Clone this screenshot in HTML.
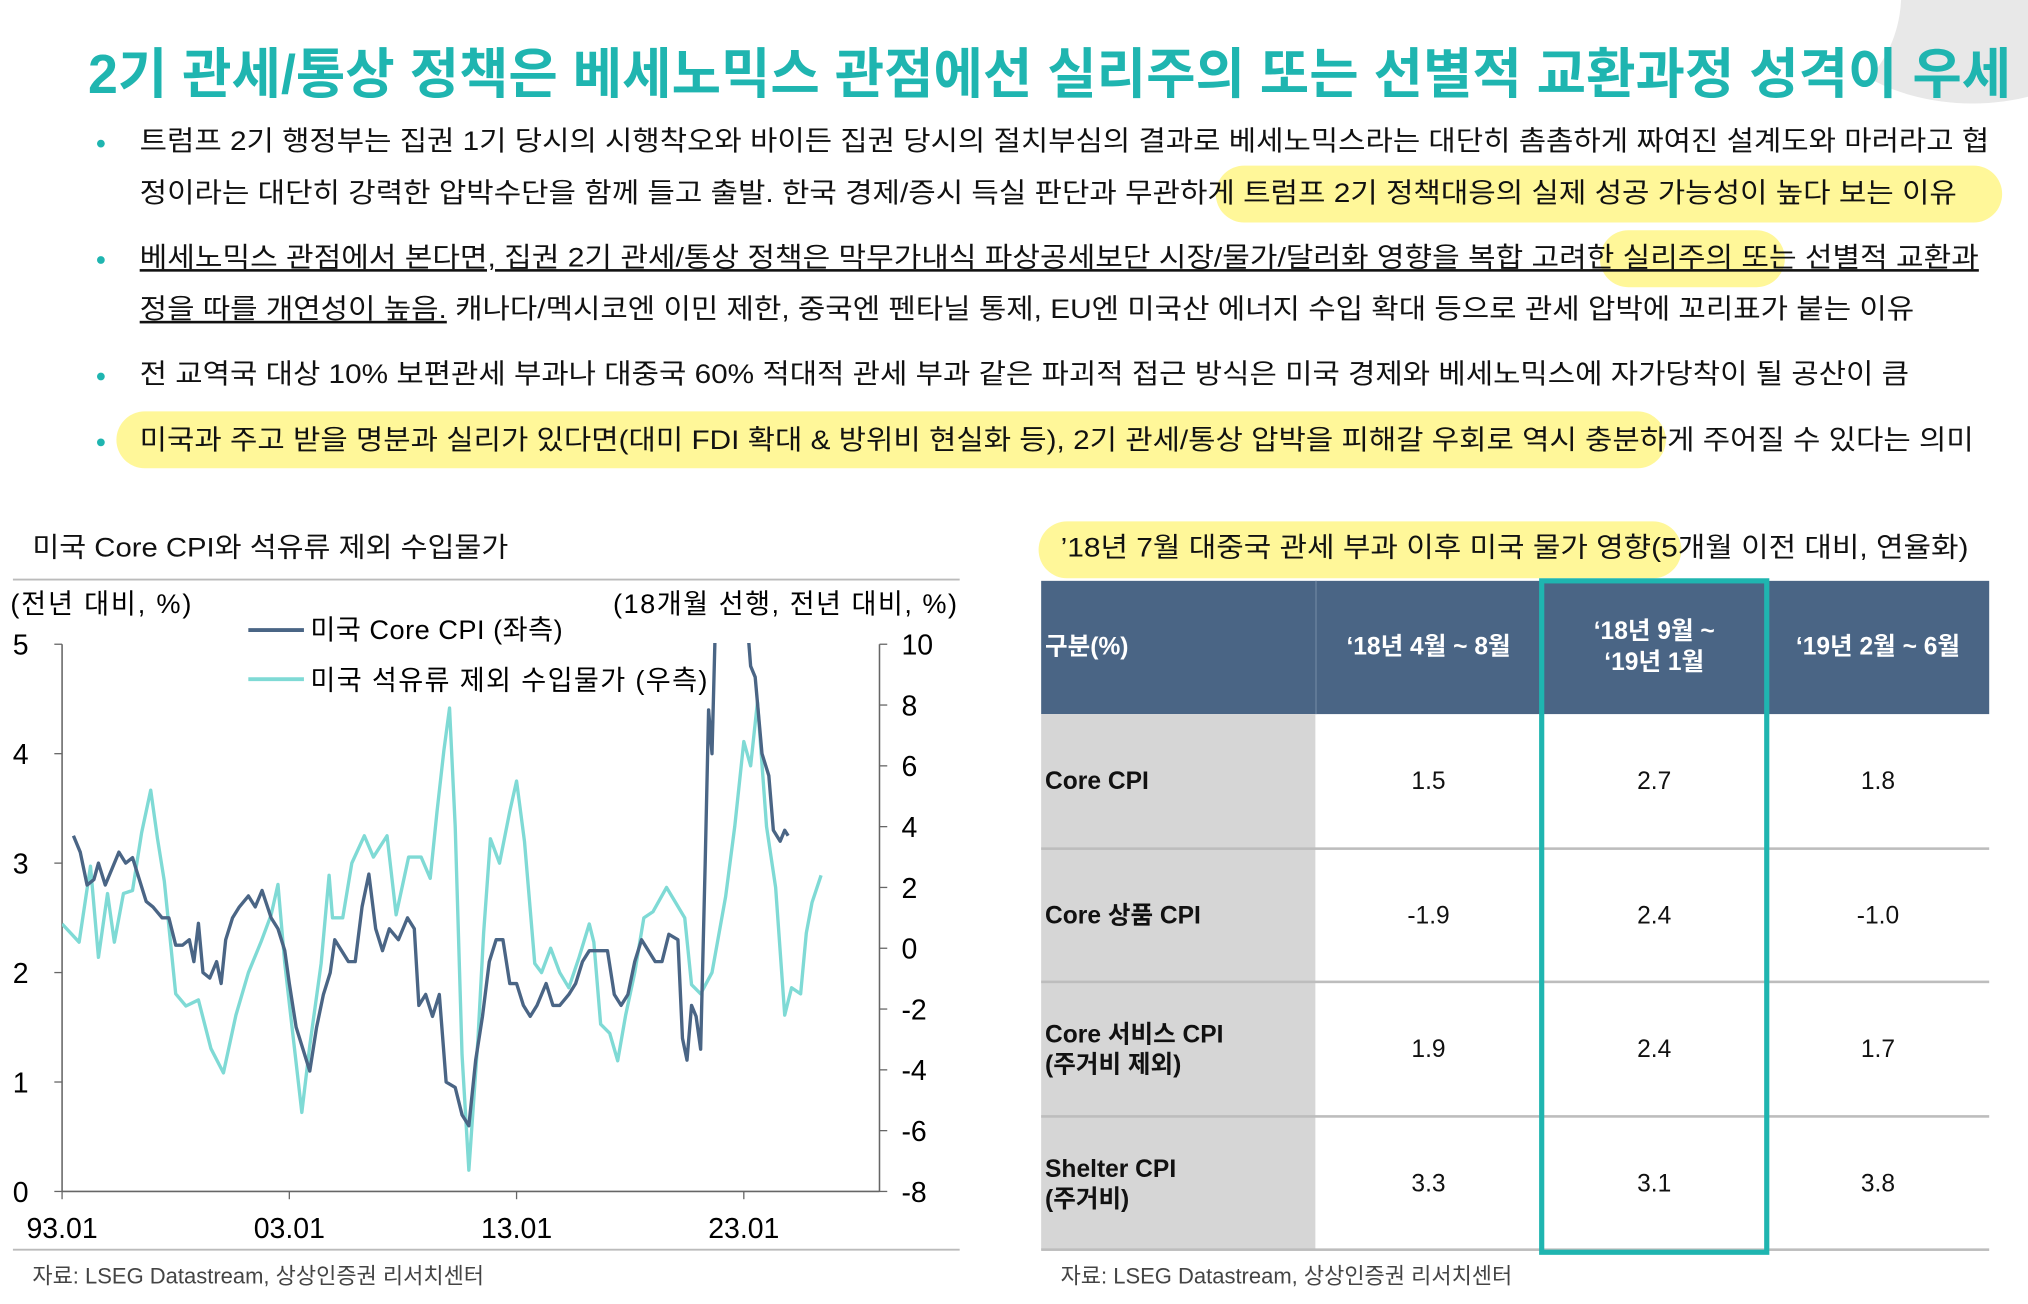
<!DOCTYPE html>
<html><head><meta charset="utf-8">
<style>
html,body{margin:0;padding:0;background:#fff;width:2028px;height:1304px;overflow:hidden;}
#stage{position:absolute;left:0;top:0;width:1568px;height:1008px;overflow:hidden;transform:scale(1.29337,1.29365);transform-origin:0 0;font-family:"Liberation Sans","Noto Sans CJK KR",sans-serif;color:#111;}
.abs{position:absolute;white-space:nowrap;}
.fit{display:inline-block;transform-origin:0 50%;}
.hl{position:absolute;background:#fff799;border-radius:22px;}
.line{position:absolute;left:108px;font-size:21px;line-height:30px;height:30px;}
.dot{position:absolute;left:75px;width:6px;height:6px;border-radius:3px;background:#1fb5b0;}
.th{position:absolute;color:#fff;font-weight:bold;font-size:19px;text-align:center;line-height:24px;}
.td{position:absolute;font-size:19px;text-align:center;line-height:24px;}
.rl{position:absolute;font-size:19px;font-weight:bold;line-height:23px;left:808px;}
</style></head><body>
<div id="stage">
<div class="abs" style="left:1400px;top:-90px;width:250px;height:170px;border-radius:50%;background:#e8e8e8;"></div>
<div class="abs" style="left:1330px;top:-90px;width:140px;height:170px;border-radius:50%;background:#fff;"></div>

<div class="abs" style="left:68px;top:30px;height:56px;line-height:56px;font-size:42px;font-weight:bold;color:#1fb5b0;"><span class="fit" data-w="1487">2기 관세/통상 정책은 베세노믹스 관점에선 실리주의 또는 선별적 교환과정 성격이 우세</span></div>

<div class="hl" style="left:940px;top:128px;width:608px;height:44px;"></div>
<div class="hl" style="left:1237px;top:178px;width:143px;height:44px;border-radius:24px;"></div>
<div class="hl" style="left:90px;top:318px;width:1198px;height:44px;"></div>
<div class="hl" style="left:803px;top:403px;width:497px;height:44px;"></div>

<div class="dot" style="top:108px"></div>
<div class="dot" style="top:198px"></div>
<div class="dot" style="top:288px"></div>
<div class="dot" style="top:339px"></div>

<div class="line" style="top:95px"><span class="fit" data-w="1430">트럼프 2기 행정부는 집권 1기 당시의 시행착오와 바이든 집권 당시의 절치부심의 결과로 베세노믹스라는 대단히 촘촘하게 짜여진 설계도와 마러라고 협</span></div>
<div class="line" style="top:135px"><span class="fit" data-w="1405">정이라는 대단히 강력한 압박수단을 함께 들고 출발. 한국 경제/증시 득실 판단과 무관하게 트럼프 2기 정책대응의 실제 성공 가능성이 높다 보는 이유</span></div>
<div class="line" style="top:185px"><span class="fit" data-w="1422"><u>베세노믹스 관점에서 본다면, 집권 2기 관세/통상 정책은 막무가내식 파상공세보단 시장/물가/달러화 영향을 복합 고려한 실리주의 또는 선별적 교환과</u></span></div>
<div class="line" style="top:225px"><span class="fit" data-w="1372"><u>정을 따를 개연성이 높음.</u> 캐나다/멕시코엔 이민 제한, 중국엔 펜타닐 통제, EU엔 미국산 에너지 수입 확대 등으로 관세 압박에 꼬리표가 붙는 이유</span></div>
<div class="line" style="top:275px"><span class="fit" data-w="1368">전 교역국 대상 10% 보편관세 부과나 대중국 60% 적대적 관세 부과 같은 파괴적 접근 방식은 미국 경제와 베세노믹스에 자가당착이 될 공산이 큼</span></div>
<div class="line" style="top:326px"><span class="fit" data-w="1418">미국과 주고 받을 명분과 실리가 있다면(대미 FDI 확대 &amp; 방위비 현실화 등), 2기 관세/통상 압박을 피해갈 우회로 역시 충분하게 주어질 수 있다는 의미</span></div>

<div class="abs" style="left:25px;top:410px;font-size:21px;line-height:28px;"><span class="fit" data-w="368">미국 Core CPI와 석유류 제외 수입물가</span></div>
<div class="abs" style="left:820px;top:410px;font-size:21px;line-height:28px;"><span class="fit" data-w="702">’18년 7월 대중국 관세 부과 이후 미국 물가 영향(5개월 이전 대비, 연율화)</span></div>

<svg class="abs" style="left:0;top:0" width="1568" height="1008">
<defs><clipPath id="pc"><rect x="48" y="497" width="632" height="426"/></clipPath></defs>
<line x1="10" y1="448" x2="742" y2="448" stroke="#bbb" stroke-width="1.5"/>
<line x1="10" y1="966" x2="742" y2="966" stroke="#bbb" stroke-width="1.5"/>
<g id="axes"></g>
<g id="series" clip-path="url(#pc)"></g>
<line x1="192" y1="487" x2="235" y2="487" stroke="#4a6585" stroke-width="3"/>
<text x="240" y="494" font-size="21" textLength="195">미국 Core CPI (좌측)</text>
<line x1="192" y1="525" x2="235" y2="525" stroke="#7fdad5" stroke-width="3"/>
<text x="240" y="533" font-size="21" textLength="307">미국 석유류 제외 수입물가 (우측)</text>
<text x="8" y="474" font-size="21" textLength="140">(전년 대비, %)</text>
<text x="740" y="474" font-size="21" text-anchor="end" textLength="266">(18개월 선행, 전년 대비, %)</text>
</svg>

<div class="abs" style="left:25px;top:972px;font-size:17px;color:#444;">자료: LSEG Datastream, 상상인증권 리서치센터</div>
<div class="abs" style="left:820px;top:972px;font-size:17px;color:#444;">자료: LSEG Datastream, 상상인증권 리서치센터</div>

<div class="abs" style="left:805px;top:449px;width:733px;height:103px;background:#4a6585;"></div>
<div class="abs" style="left:805px;top:552px;width:212px;height:414px;background:#d6d6d6;"></div>
<div class="abs" style="left:1017px;top:449px;width:1px;height:103px;background:#6d84a0;"></div>
<div class="abs" style="left:1366px;top:449px;width:1px;height:103px;background:#6d84a0;"></div>
<div class="abs" style="left:805px;top:655px;width:733px;height:1.5px;background:#bdbdbd;"></div>
<div class="abs" style="left:805px;top:758px;width:733px;height:1.5px;background:#bdbdbd;"></div>
<div class="abs" style="left:805px;top:862px;width:733px;height:1.5px;background:#bdbdbd;"></div>
<div class="abs" style="left:805px;top:965px;width:733px;height:1.5px;background:#bdbdbd;"></div>
<div class="abs" style="left:1190px;top:447px;width:170px;height:515px;border:4px solid #1fb5b0;"></div>

<div class="th" style="left:808px;top:489px;text-align:left;">구분(%)</div>
<div class="th" style="left:1017px;top:489px;width:175px;">‘18년 4월 ~ 8월</div>
<div class="th" style="left:1192px;top:477px;width:174px;">‘18년 9월 ~<br>‘19년 1월</div>
<div class="th" style="left:1366px;top:489px;width:172px;">‘19년 2월 ~ 6월</div>

<div class="rl" style="top:593px">Core CPI</div>
<div class="rl" style="top:697px">Core 상품 CPI</div>
<div class="rl" style="top:789px">Core 서비스 CPI<br>(주거비 제외)</div>
<div class="rl" style="top:893px">Shelter CPI<br>(주거비)</div>

<div class="td" style="left:1017px;top:593px;width:175px">1.5</div>
<div class="td" style="left:1192px;top:593px;width:174px">2.7</div>
<div class="td" style="left:1366px;top:593px;width:172px">1.8</div>
<div class="td" style="left:1017px;top:697px;width:175px">-1.9</div>
<div class="td" style="left:1192px;top:697px;width:174px">2.4</div>
<div class="td" style="left:1366px;top:697px;width:172px">-1.0</div>
<div class="td" style="left:1017px;top:800px;width:175px">1.9</div>
<div class="td" style="left:1192px;top:800px;width:174px">2.4</div>
<div class="td" style="left:1366px;top:800px;width:172px">1.7</div>
<div class="td" style="left:1017px;top:904px;width:175px">3.3</div>
<div class="td" style="left:1192px;top:904px;width:174px">3.1</div>
<div class="td" style="left:1366px;top:904px;width:172px">3.8</div>
</div>

<script>
const leftTicks=[0,1,2,3,4,5];
const rightTicks=[-8,-6,-4,-2,0,2,4,6,8,10];
const xTickYears=[1993,2003,2013,2023];
const xTickLabels=["93.01","03.01","13.01","23.01"];
const cpiDates=[1993.5,1993.8,1994.1,1994.4,1994.6,1994.9,1995.2,1995.5,1995.8,1996.1,1996.4,1996.7,1997.0,1997.4,1997.7,1998.0,1998.3,1998.6,1998.8,1999.0,1999.2,1999.5,1999.8,2000.0,2000.2,2000.5,2000.8,2001.2,2001.5,2001.8,2002.2,2002.5,2002.8,2003.0,2003.3,2003.6,2003.9,2004.2,2004.5,2004.8,2005.0,2005.3,2005.6,2005.9,2006.2,2006.5,2006.8,2007.1,2007.4,2007.8,2008.2,2008.5,2008.7,2009.0,2009.3,2009.6,2009.9,2010.3,2010.6,2010.9,2011.2,2011.5,2011.8,2012.1,2012.4,2012.7,2013.0,2013.3,2013.6,2013.9,2014.3,2014.6,2014.9,2015.3,2015.6,2015.9,2016.2,2016.5,2016.8,2017.0,2017.3,2017.6,2017.9,2018.2,2018.5,2018.8,2019.1,2019.4,2019.7,2020.1,2020.3,2020.5,2020.7,2020.9,2021.1,2021.3,2021.45,2021.6,2021.75,2022.0,2022.7,2023.0,2023.3,2023.5,2023.8,2024.1,2024.3,2024.6,2024.8,2024.95];
const cpiValues=[3.25,3.1,2.8,2.85,3.0,2.8,2.95,3.1,3.0,3.05,2.85,2.65,2.6,2.5,2.5,2.25,2.25,2.3,2.1,2.45,2.0,1.95,2.1,1.9,2.3,2.5,2.6,2.7,2.6,2.75,2.5,2.4,2.2,1.9,1.5,1.3,1.1,1.5,1.8,2.0,2.3,2.2,2.1,2.1,2.6,2.9,2.4,2.2,2.4,2.3,2.5,2.4,1.7,1.8,1.6,1.8,1.0,0.95,0.7,0.6,1.2,1.6,2.1,2.3,2.3,1.9,1.9,1.7,1.6,1.7,1.9,1.7,1.7,1.8,1.9,2.1,2.2,2.2,2.2,2.2,1.8,1.7,1.8,2.1,2.3,2.2,2.1,2.1,2.35,2.3,1.4,1.2,1.7,1.6,1.3,3.0,4.4,4.0,5.2,6.0,6.6,5.6,4.8,4.7,4.0,3.8,3.3,3.2,3.3,3.25];
const impDates=[1993.0,1993.75,1994.25,1994.6,1995.0,1995.3,1995.7,1996.1,1996.5,1996.9,1997.2,1997.5,1998.0,1998.45,1999.0,1999.55,2000.1,2000.65,2001.2,2001.75,2002.2,2002.5,2002.8,2003.15,2003.55,2003.9,2004.4,2004.75,2004.9,2005.35,2005.75,2006.3,2006.7,2007.3,2007.7,2008.25,2008.8,2009.2,2009.5,2009.8,2010.05,2010.3,2010.6,2010.9,2011.3,2011.55,2011.85,2012.25,2012.7,2013.0,2013.35,2013.8,2014.1,2014.5,2014.9,2015.3,2015.75,2016.2,2016.4,2016.7,2017.1,2017.45,2017.8,2018.2,2018.6,2019.0,2019.6,2020.0,2020.4,2020.7,2021.1,2021.6,2022.2,2022.6,2023.0,2023.3,2023.6,2024.0,2024.4,2024.8,2025.1,2025.5,2025.75,2026.0,2026.4];
const impValues=[0.8,0.2,2.7,-0.3,1.8,0.2,1.8,1.9,3.8,5.2,3.6,2.2,-1.5,-1.9,-1.7,-3.3,-4.1,-2.2,-0.8,0.2,1.1,2.1,-0.5,-2.8,-5.4,-3.2,-0.5,2.4,1.0,1.0,2.8,3.7,3.0,3.7,1.1,3.0,3.0,2.3,4.5,6.5,7.9,4.0,-3.5,-7.3,-3.0,0.5,3.6,2.8,4.5,5.5,3.5,-0.5,-0.8,0.0,-0.8,-1.3,-0.3,0.8,0.2,-2.5,-2.8,-3.7,-2.2,-0.8,1.0,1.2,2.0,1.5,1.0,-1.2,-1.5,-0.8,1.7,4.0,6.8,6.0,8.1,4.0,2.0,-2.2,-1.3,-1.5,0.5,1.5,2.4];

const NS="http://www.w3.org/2000/svg";
function xS(yr){return 48+(yr-1993)*17.57;}
function yL(v){return 921-v/5*423;}
function yR(v){return 921-(v+8)/18*423;}
function mk(tag,attrs,parent){const e=document.createElementNS(NS,tag);for(const k in attrs)e.setAttribute(k,attrs[k]);parent.appendChild(e);return e;}
const axes=document.getElementById('axes');
const ser=document.getElementById('series');
let a=mk('line',{x1:48,y1:498,x2:48,y2:921,stroke:'#666','stroke-width':1.2},axes);


a=mk('line',{x1:680,y1:498,x2:680,y2:921,stroke:'#666','stroke-width':1.2},axes);


a=mk('line',{x1:48,y1:921,x2:680,y2:921,stroke:'#666','stroke-width':1.2},axes);


leftTicks.forEach(v=>{
  mk('line',{x1:42,y1:yL(v),x2:48,y2:yL(v),stroke:'#666'},axes);
  const t=mk('text',{x:16,y:yL(v)+8,'font-size':22,'text-anchor':'middle'},axes);t.textContent=v;
  
  
});
rightTicks.forEach(v=>{
  mk('line',{x1:680,y1:yR(v),x2:686,y2:yR(v),stroke:'#666'},axes);
  const t=mk('text',{x:697,y:yR(v)+8,'font-size':22},axes);t.textContent=v;
  
  
});
xTickYears.forEach((yr,i)=>{
  mk('line',{x1:xS(yr),y1:921,x2:xS(yr),y2:927,stroke:'#666'},axes);
  const t=mk('text',{x:xS(yr),y:957,'font-size':22,'text-anchor':'middle'},axes);t.textContent=xTickLabels[i];
  
  
});
let p=mk('polyline',{points:impDates.map((d,i)=>xS(d)+','+yR(impValues[i])).join(' '),fill:'none',stroke:'#7fdad5','stroke-width':2.6,'stroke-linejoin':'round'},ser);


p=mk('polyline',{points:cpiDates.map((d,i)=>xS(d)+','+yL(cpiValues[i])).join(' '),fill:'none',stroke:'#4a6585','stroke-width':2.6,'stroke-linejoin':'round'},ser);



document.querySelectorAll('.fit').forEach(s=>{
  const w=parseFloat(s.getAttribute('data-w'));const cw=s.getBoundingClientRect().width/1.29337;
  if(cw>0)s.style.transform='scaleX('+(w/cw)+')';
});
</script>
</body></html>
